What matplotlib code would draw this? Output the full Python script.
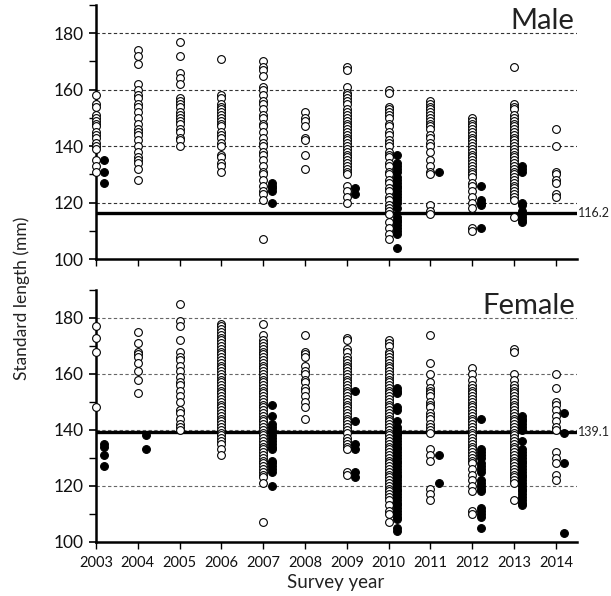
import matplotlib
matplotlib.use("Agg")
import matplotlib.pyplot as plt
from matplotlib.ticker import MultipleLocator

plt.rcParams['font.family'] = ['Lato', 'DejaVu Sans']

years = [2003, 2004, 2005, 2006, 2007, 2008, 2009, 2010, 2011, 2012, 2013, 2014]

# Standard length (mm) of individual fish, open = immature, filled = mature
male_open = [
    [158, 155, 154, 151, 150, 149, 148, 147, 145, 144, 143, 141, 140, 139, 135, 133, 131],
    [174, 172, 169, 162, 160, 158, 157, 155, 154, 152, 150, 148, 146, 145, 144, 142, 140,
     138, 136, 135, 134, 132, 128],
    [177, 172, 166, 164, 162, 157, 156, 155, 154, 152, 151, 150, 149, 148, 146, 145, 143, 142, 140],
    [171, 158, 157, 155, 154, 153, 152, 151, 150, 149, 148, 147, 145, 144, 143, 141, 140,
     137, 136, 134, 133, 131],
    [170, 168, 167, 165, 161, 160, 158, 156, 155, 153, 151, 150, 148, 147, 145, 143, 141,
     140, 138, 137, 135, 133, 131, 130, 128, 126, 124, 123, 121, 107],
    [152, 150, 149, 147, 143, 142, 137, 132],
    [168, 167, 161, 159, 158, 157, 156, 155, 153, 152, 151, 150, 149, 148, 147, 146, 145,
     144, 143, 142, 141, 140, 139, 138, 137, 136, 135, 134, 133, 132, 131, 130, 126, 124, 122, 120],
    [160, 159, 154, 153, 152, 151, 150, 148, 147, 145, 144, 142, 141, 140, 138, 137, 136,
     134, 133, 131, 130, 128, 127, 125, 124, 122, 121, 119, 118, 117, 116, 113, 111, 109, 107],
    [156, 155, 154, 153, 152, 151, 150, 149, 148, 147, 146, 144, 143, 141, 140, 138, 135,
     133, 131, 130, 119, 117, 116],
    [150, 149, 148, 147, 146, 145, 144, 143, 142, 141, 140, 139, 138, 137, 136, 135, 134,
     133, 132, 131, 130, 129, 127, 126, 124, 122, 120, 118, 111, 110],
    [168, 155, 154, 153, 151, 150, 149, 148, 147, 146, 145, 144, 143, 142, 141, 140, 139,
     138, 137, 136, 135, 134, 133, 132, 131, 130, 129, 128, 127, 126, 125, 124, 123, 122, 121, 115],
    [146, 140, 131, 130, 128, 127, 123, 122],
]
male_filled = [
    [135, 131, 127],
    [],
    [],
    [],
    [127, 126, 125, 124, 120],
    [],
    [125, 123],
    [137, 134, 133, 132, 131, 129, 128, 127, 126, 125, 124, 123, 122, 121, 120, 118, 115,
     114, 113, 112, 111, 110, 109, 104],
    [131],
    [126, 121, 120, 119, 111],
    [133, 132, 131, 120, 119, 117, 116, 115, 114, 113],
    [],
]

female_open = [
    [177, 173, 168, 148],
    [175, 171, 168, 167, 166, 164, 161, 158, 153],
    [185, 179, 177, 172, 168, 166, 165, 163, 161, 159, 157, 156, 154, 152, 150, 147, 146,
     144, 142, 141, 140],
    [178, 177, 176, 175, 174, 173, 172, 171, 170, 169, 168, 167, 166, 165, 164, 163, 162,
     161, 160, 159, 158, 157, 156, 155, 154, 153, 152, 151, 150, 149, 148, 147, 146, 145,
     144, 143, 142, 141, 140, 139, 138, 137, 136, 135, 133, 131],
    [178, 174, 172, 171, 170, 169, 168, 167, 166, 165, 164, 163, 162, 161, 160, 159, 158,
     157, 156, 155, 154, 153, 152, 151, 150, 149, 148, 147, 146, 145, 144, 143, 142, 141,
     140, 139, 138, 137, 136, 135, 134, 133, 132, 131, 130, 129, 128, 127, 126, 125, 124,
     123, 121, 107],
    [174, 168, 167, 166, 163, 161, 160, 158, 157, 155, 154, 152, 150, 148, 144],
    [173, 172, 169, 168, 166, 165, 164, 163, 162, 161, 160, 159, 158, 157, 156, 155, 154,
     153, 152, 151, 150, 149, 148, 147, 146, 145, 144, 143, 142, 141, 140, 139, 137, 136,
     135, 134, 133, 125, 124],
    [172, 171, 170, 168, 167, 166, 165, 164, 163, 162, 161, 160, 159, 158, 157, 156, 155,
     154, 153, 152, 151, 150, 149, 148, 147, 146, 145, 144, 143, 142, 141, 140, 139, 138,
     137, 136, 135, 134, 133, 132, 131, 130, 129, 128, 127, 126, 125, 124, 123, 122, 121,
     120, 119, 118, 117, 116, 115, 113, 111, 110, 107],
    [174, 164, 160, 157, 155, 154, 153, 152, 150, 149, 148, 146, 145, 144, 142, 141, 140,
     139, 133, 131, 129, 119, 117, 115],
    [162, 160, 158, 156, 155, 154, 153, 152, 151, 150, 149, 148, 147, 146, 145, 144, 143,
     142, 141, 140, 139, 138, 137, 136, 135, 134, 133, 132, 131, 130, 129, 128, 126, 124,
     122, 120, 118, 111, 110],
    [169, 168, 160, 158, 156, 155, 154, 153, 152, 151, 150, 149, 148, 147, 146, 145, 144,
     143, 142, 141, 140, 139, 138, 137, 136, 135, 134, 133, 132, 131, 130, 129, 128, 127,
     126, 125, 124, 123, 122, 121, 115],
    [160, 155, 150, 149, 147, 145, 143, 141, 140, 132, 130, 128, 124, 122],
]
female_filled = [
    [135, 134, 131, 127],
    [138, 133],
    [],
    [],
    [149, 145, 142, 141, 140, 138, 137, 136, 135, 134, 133, 129, 128, 127, 126, 125, 120],
    [],
    [154, 143, 135, 133, 125, 123],
    [155, 154, 153, 148, 147, 143, 141, 140, 139, 138, 137, 136, 135, 134, 133, 132, 131,
     130, 129, 128, 127, 126, 125, 124, 123, 122, 121, 120, 119, 118, 117, 116, 115, 114,
     113, 112, 111, 110, 109, 108, 105, 104],
    [131, 121],
    [144, 133, 132, 131, 130, 128, 127, 126, 125, 122, 121, 120, 119, 118, 112, 111, 110, 109, 105],
    [145, 144, 143, 142, 141, 140, 136, 133, 132, 131, 130, 129, 128, 127, 126, 125, 124,
     123, 122, 121, 120, 119, 118, 117, 116, 115, 114, 113],
    [146, 139, 128, 103],
]

thresholds = {"Male": 116.2, "Female": 139.1}
year_labels = [str(y) for y in years]

fig = plt.figure(figsize=(6.11, 5.96), dpi=100)
ax_m = fig.add_axes([0.157, 0.5654, 0.787, 0.4262])
ax_f = fig.add_axes([0.157, 0.0911, 0.787, 0.4223])

offset = 0.2


def draw_panel(ax, opens, filled, title, thr, show_xlabels, grid_color):
    for gy in (120, 140, 160, 180):
        ax.axhline(gy, color=grid_color, lw=0.8, ls=(0, (3, 2.2)), zorder=1)
    ax.axhline(thr, color='black', lw=2.4, zorder=2)
    for yr, vals in zip(years, opens):
        ax.plot([yr] * len(vals), vals, 'o', ms=5.6, mfc='white', mec='black',
                mew=0.8, clip_on=False, zorder=3)
    for yr, vals in zip(years, filled):
        if vals:
            ax.plot([yr + offset] * len(vals), vals, 'o', ms=5.6, mfc='black',
                    mec='black', mew=0.8, clip_on=False, zorder=4)
    ax.set_xlim(2003, 2014.5)
    ax.set_ylim(100, 190)
    ax.set_xticks(years)
    if show_xlabels:
        ax.set_xticklabels(year_labels, fontsize=10.5)
    else:
        ax.set_xticklabels([])
    ax.set_yticks([100, 120, 140, 160, 180])
    ax.yaxis.set_minor_locator(MultipleLocator(10))
    ax.tick_params(axis='y', which='major', labelsize=12.5, length=5, width=1.2,
                   direction='out', pad=4, labelcolor='#111111')
    ax.tick_params(axis='y', which='minor', length=5, width=1.0, direction='out')
    ax.tick_params(axis='x', which='major', length=5, width=1.0, direction='out', pad=5,
                   labelcolor='#111111')
    for side in ('top', 'right'):
        ax.spines[side].set_visible(False)
    for side in ('left', 'bottom'):
        ax.spines[side].set_linewidth(1.8)
    ax.text(2014.53, thr, f"{thr:.1f}", fontsize=9, va='center', ha='left',
            color='#222222')
    ax.text(2014.45, 181.6, title, fontsize=21, ha='right', va='baseline', color='#222222')


draw_panel(ax_m, male_open, male_filled, "Male", thresholds["Male"], False, '#333333')
draw_panel(ax_f, female_open, female_filled, "Female", thresholds["Female"], True, '#666666')

fig.text(0.035, 0.5, "Standard length (mm)", rotation=90, ha='center', va='center',
         fontsize=12.5, color='#222222')
fig.text(0.55, 0.022, "Survey year", ha='center', va='center', fontsize=13.5,
         color='#222222')

fig.savefig("out.png", dpi=100)
